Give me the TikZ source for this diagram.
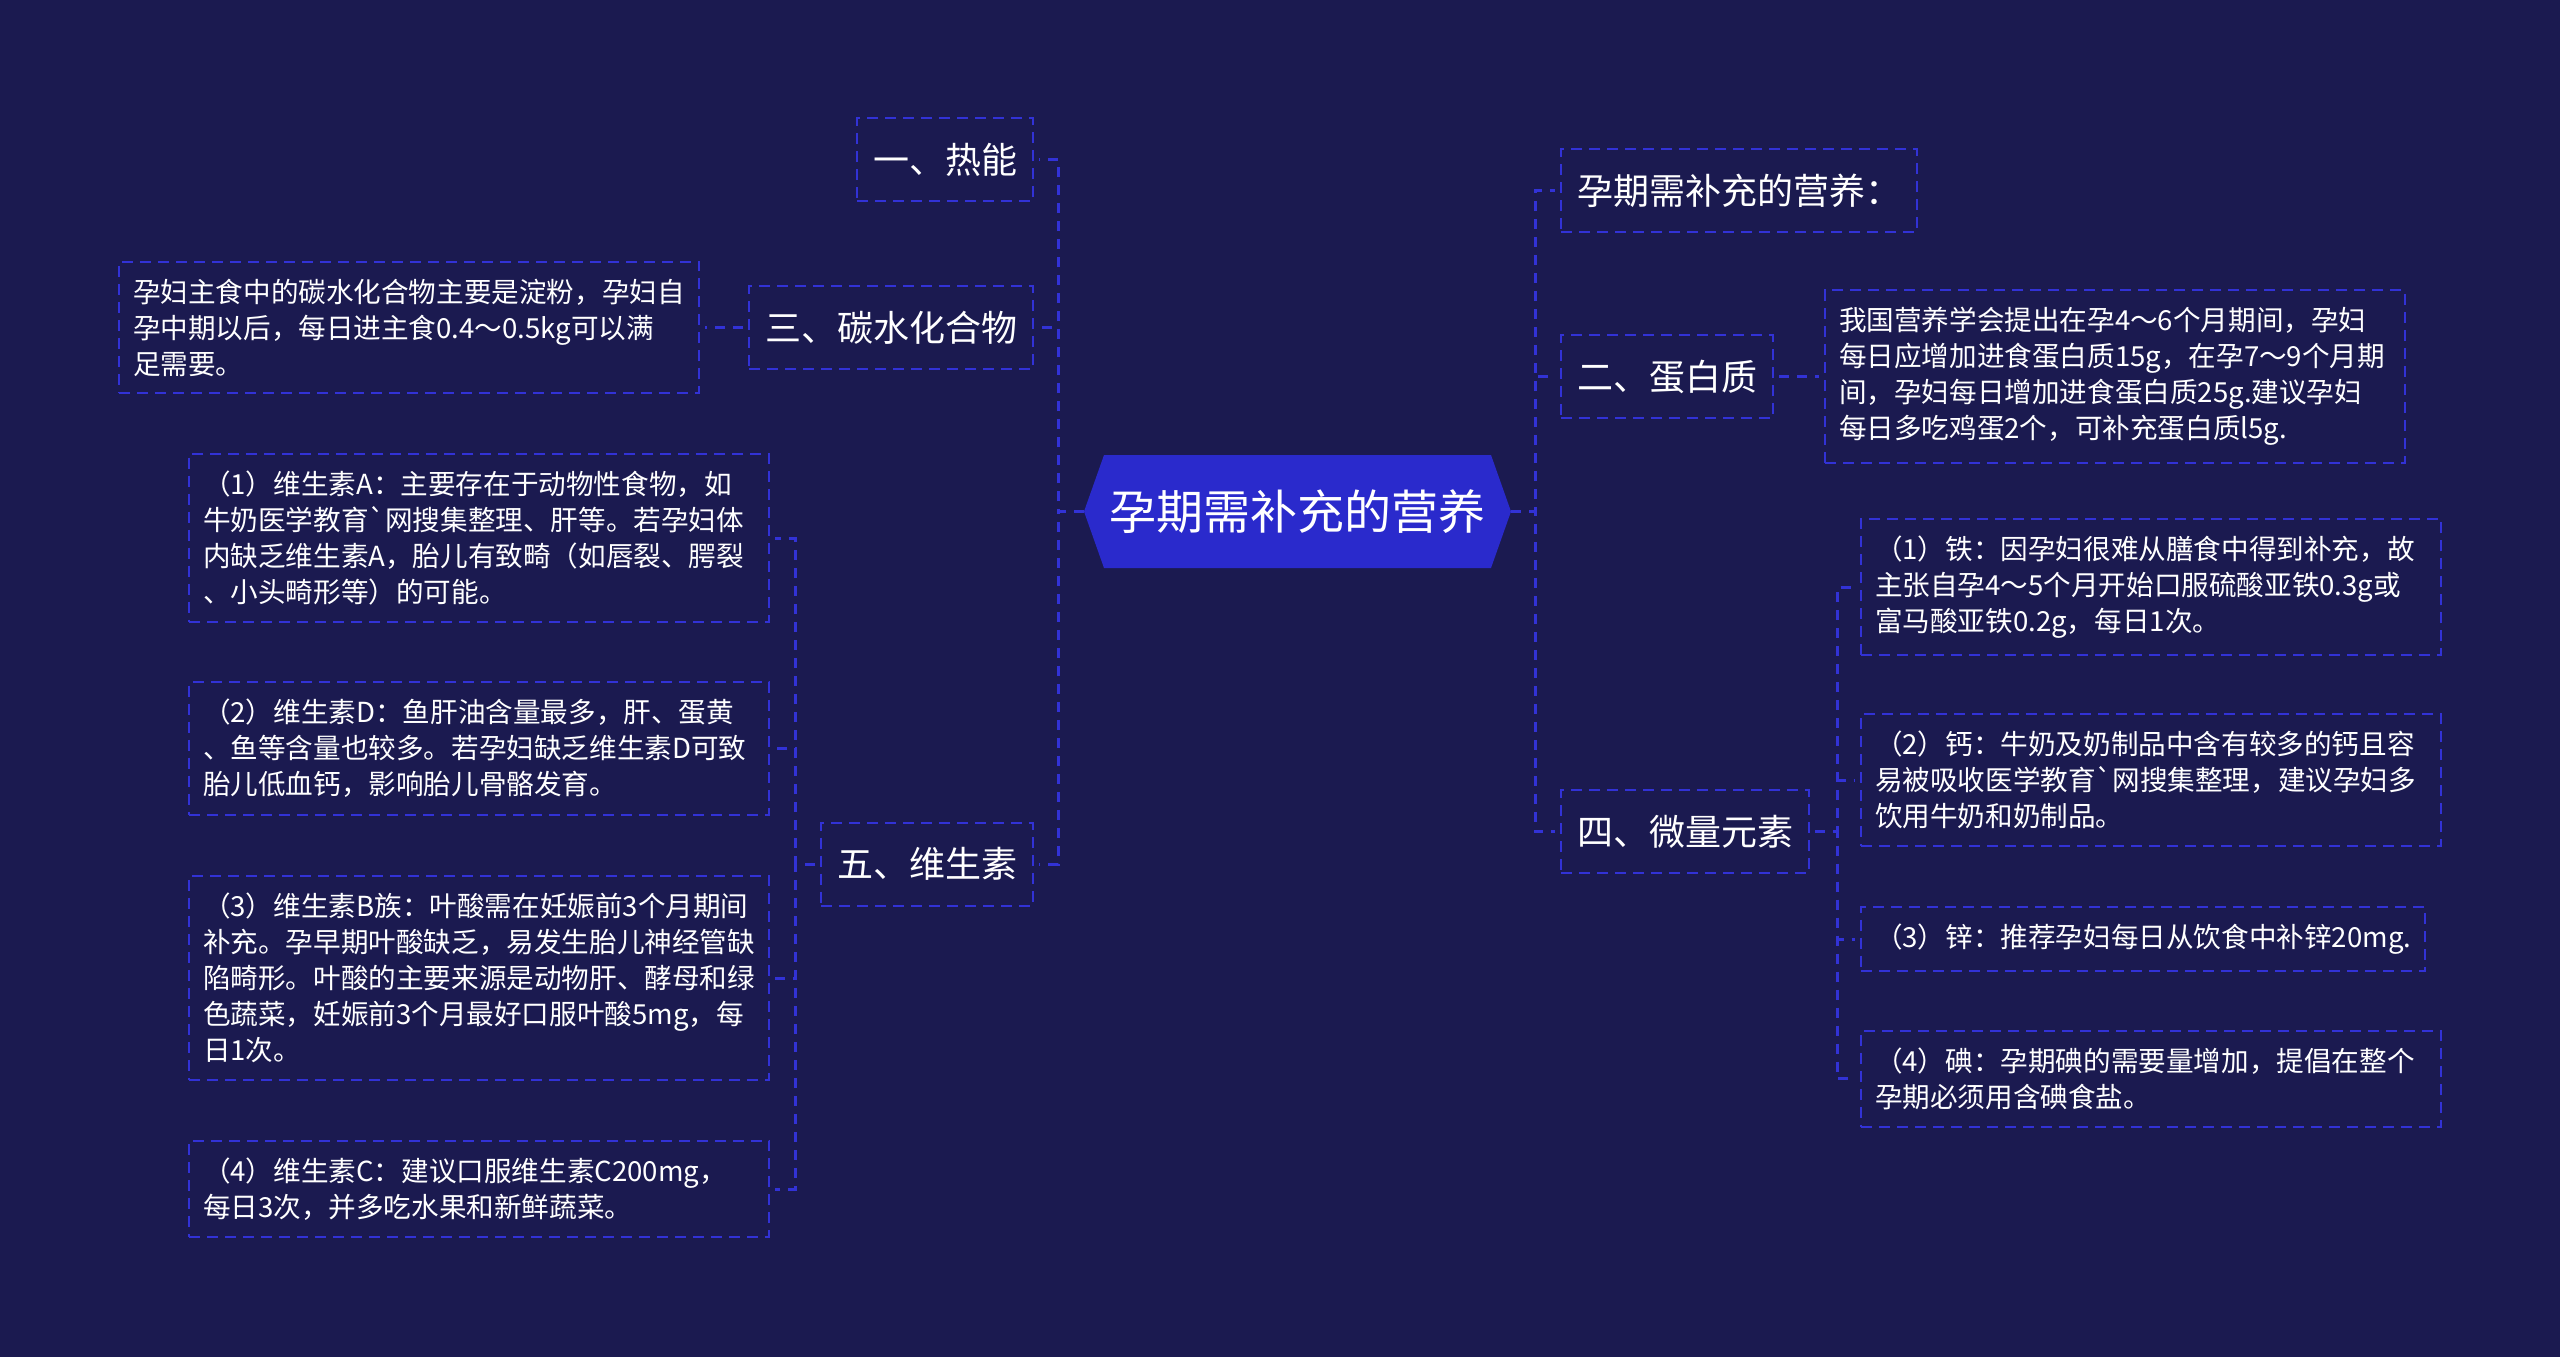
\documentclass[tikz,border=0pt]{standalone}
\usepackage{fontspec}
\newfontfamily\cjk{Noto Sans CJK SC}
\usepackage{tikz}
\usetikzlibrary{shapes.symbols}

\definecolor{bgnavy}{RGB}{27,26,80}
\definecolor{rootblue}{RGB}{42,42,204}
\definecolor{lineblue}{RGB}{50,50,214}

\begin{document}
\begin{tikzpicture}[
  x=0.5pt, y=-0.5pt,
  font=\cjk,
  root/.style={signal, signal to=west and east, signal pointer angle=141,
    fill=rootblue, text=white, minimum width=213.5pt, minimum height=56.5pt,
    inner sep=0pt, font=\cjk\fontsize{23.5pt}{28pt}\selectfont},
  topic/.style={draw=lineblue, line width=1pt, dash pattern=on 5.5pt off 3.5pt,
    text=white, minimum height=41.5pt, inner xsep=8pt, outer sep=3pt,
    font=\cjk\fontsize{18pt}{22pt}\selectfont},
  note/.style={draw=lineblue, line width=1pt, dash pattern=on 5.5pt off 3.5pt,
    text=white, align=left, inner xsep=7pt, inner ysep=8.5pt, outer sep=3pt,
    font=\cjk\fontsize{13.8pt}{18pt}\selectfont},
  widenote/.style={note, text width=276pt},
  link/.style={draw=lineblue, line width=1.5pt, dash pattern=on 5pt off 4pt},
]
  \useasboundingbox (0,0) rectangle (2560,1357);
  \fill[bgnavy] (0,0) rectangle (2560,1357);

  \node[root] (root) at (1297.5,511.5) {孕期需补充的营养};

  \node[topic, anchor=east] (heat) at (1039,159.5) {一、热能};
  \node[topic, anchor=east] (carb) at (1039,327.5) {三、碳水化合物};
  \node[topic, anchor=east] (vit) at (1039,864) {五、维生素};

  \node[topic, anchor=west] (title) at (1555,190.5) {孕期需补充的营养：};
  \node[topic, anchor=west] (pro) at (1555,376.5) {二、蛋白质};
  \node[topic, anchor=west] (trace) at (1555,831.5) {四、微量元素};

  \node[widenote, anchor=east] (carbtext) at (705,327.5) {孕妇主食中的碳水化合物主要是淀粉，孕妇自\\孕中期以后，每日进主食0.4～0.5kg可以满\\足需要。};

  \node[widenote, anchor=east] (vA) at (775,538) {（1）维生素A：主要存在于动物性食物，如\\牛奶医学教育\textasciigrave 网搜集整理、肝等。若孕妇体\\内缺乏维生素A，胎儿有致畸（如唇裂、腭裂\\、小头畸形等）的可能。};
  \node[widenote, anchor=east] (vD) at (775,748.5) {（2）维生素D：鱼肝油含量最多，肝、蛋黄\\、鱼等含量也较多。若孕妇缺乏维生素D可致\\胎儿低血钙，影响胎儿骨骼发育。};
  \node[widenote, anchor=east] (vB) at (775,978) {（3）维生素B族：叶酸需在妊娠前3个月期间\\补充。孕早期叶酸缺乏，易发生胎儿神经管缺\\陷畸形。叶酸的主要来源是动物肝、酵母和绿\\色蔬菜，妊娠前3个月最好口服叶酸5mg，每\\日1次。};
  \node[widenote, anchor=east] (vC) at (775,1189) {（4）维生素C：建议口服维生素C200mg，\\每日3次，并多吃水果和新鲜蔬菜。};

  \node[widenote, anchor=west] (protext) at (1819,376.5) {我国营养学会提出在孕4～6个月期间，孕妇\\每日应增加进食蛋白质15g，在孕7～9个月期\\间，孕妇每日增加进食蛋白质25g.建议孕妇\\每日多吃鸡蛋2个，可补充蛋白质l5g.};

  \node[widenote, anchor=west] (fe) at (1855,587) {（1）铁：因孕妇很难从膳食中得到补充，故\\主张自孕4～5个月开始口服硫酸亚铁0.3g或\\富马酸亚铁0.2g，每日1次。};
  \node[widenote, anchor=west] (ca) at (1855,780) {（2）钙：牛奶及奶制品中含有较多的钙且容\\易被吸收医学教育\textasciigrave 网搜集整理，建议孕妇多\\饮用牛奶和奶制品。};
  \node[note, anchor=west] (zn) at (1855,939) {（3）锌：推荐孕妇每日从饮食中补锌20mg.};
  \node[widenote, anchor=west] (io) at (1855,1078.5) {（4）碘：孕期碘的需要量增加，提倡在整个\\孕期必须用含碘食盐。};

  \coordinate (lt) at (1058,511.5);
  \coordinate (rt) at (1535,511.5);
  \coordinate (vt) at (795,864);
  \coordinate (tt) at (1837,831.5);

  \foreach \n in {heat,carb,vit} \draw[link] (root.west) -- (lt) |- (\n.east);
  \foreach \n in {title,pro,trace} \draw[link] (root.east) -- (rt) |- (\n.west);
  \draw[link] (carb.west) -- (carbtext.east);
  \draw[link] (pro.east) -- (protext.west);
  \foreach \n in {vA,vD,vB,vC} \draw[link] (vit.west) -- (vt) |- (\n.east);
  \foreach \n in {fe,ca,zn,io} \draw[link] (trace.east) -- (tt) |- (\n.west);
\end{tikzpicture}
\end{document}
